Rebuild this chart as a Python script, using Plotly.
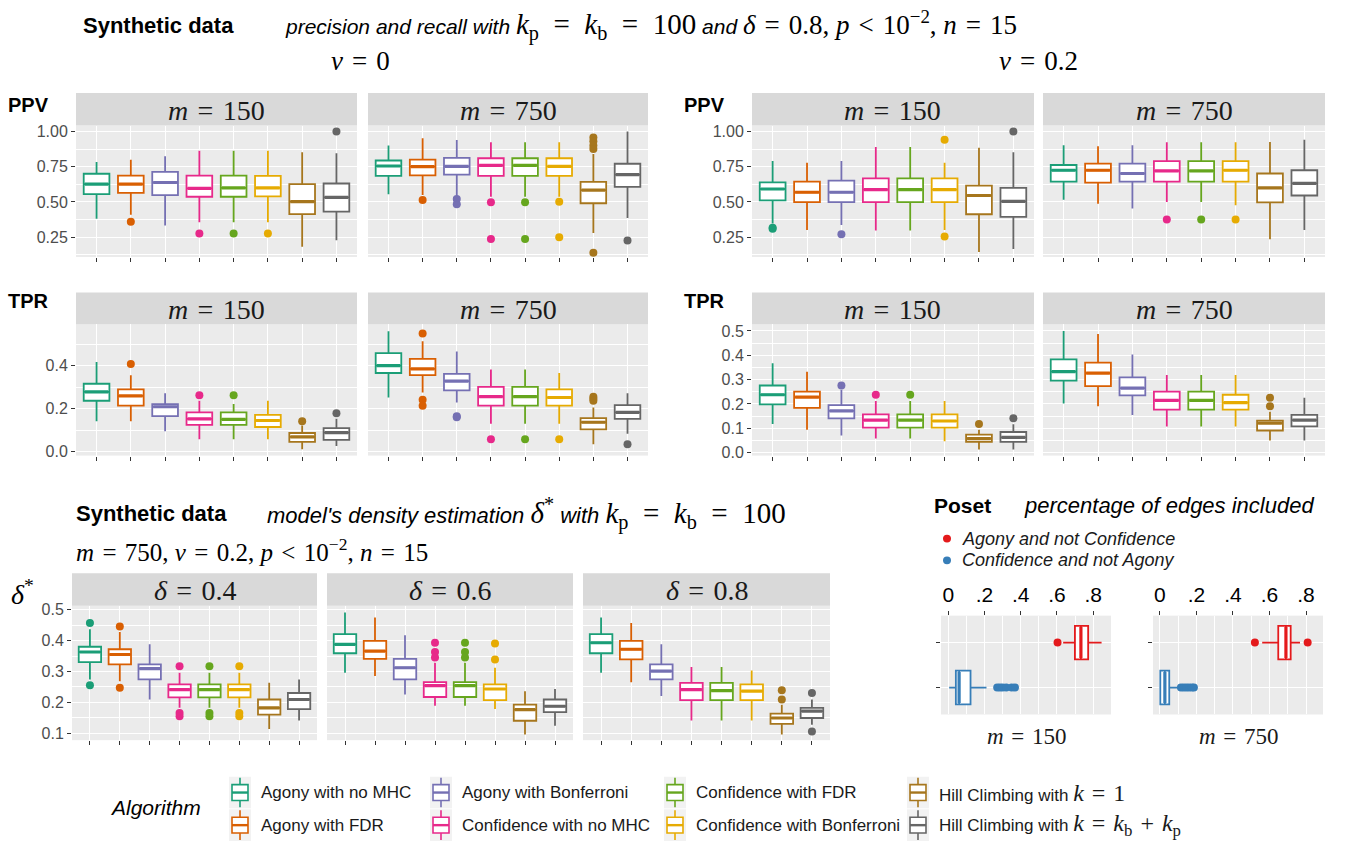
import plotly.graph_objects as go

W, H = 1347, 844

def fx(x):
    return x / W

def fy(y):
    return 1 - y / H

ALGORITHMS = ["Agony with no MHC", "Agony with FDR", "Agony with Bonferroni",
              "Confidence with no MHC", "Confidence with FDR", "Confidence with Bonferroni",
              "Hill Climbing with k = 1", "Hill Climbing with k = kb + kp"]
COLORS = ["#1B9E77", "#D95F02", "#7570B3", "#E7298A", "#66A61E", "#E6AB02", "#A6761D", "#666666"]

# rows: (lower whisker, q1, median, q3, upper whisker) per algorithm
PPV_NU0_M150 = [(0.381, 0.556, 0.626, 0.700, 0.783), (0.409, 0.565, 0.626, 0.687, 0.800),
                (0.334, 0.549, 0.638, 0.713, 0.825), (0.357, 0.537, 0.596, 0.687, 0.864),
                (0.357, 0.537, 0.600, 0.687, 0.864), (0.357, 0.539, 0.600, 0.685, 0.864),
                (0.182, 0.414, 0.502, 0.626, 0.853), (0.229, 0.432, 0.533, 0.631, 0.846)]
PPV_NU0_M150_OUT = [[], [0.36], [], [0.276], [0.276], [0.276], [], [1.0]]

PPV_NU0_M750 = [(0.554, 0.685, 0.755, 0.794, 0.900), (0.549, 0.689, 0.750, 0.800, 0.951),
                (0.537, 0.694, 0.752, 0.813, 0.940), (0.537, 0.685, 0.759, 0.810, 0.923),
                (0.537, 0.685, 0.759, 0.810, 0.923), (0.537, 0.685, 0.752, 0.810, 0.923),
                (0.280, 0.491, 0.584, 0.643, 0.840), (0.386, 0.607, 0.694, 0.771, 1.000)]
PPV_NU0_M750_OUT = [[], [0.514], [0.521, 0.484], [0.498, 0.238], [0.498, 0.238], [0.502, 0.25],
                    [0.958, 0.93, 0.90, 0.876, 0.14], [0.227]]

PPV_NU02_M150 = [(0.348, 0.511, 0.592, 0.639, 0.790), (0.301, 0.499, 0.569, 0.644, 0.779),
                 (0.336, 0.499, 0.569, 0.651, 0.790), (0.297, 0.499, 0.588, 0.667, 0.890),
                 (0.297, 0.499, 0.588, 0.667, 0.890), (0.301, 0.499, 0.588, 0.667, 0.779),
                 (0.145, 0.413, 0.546, 0.616, 0.884), (0.166, 0.394, 0.504, 0.600, 0.853)]
PPV_NU02_M150_OUT = [[0.318, 0.31], [], [0.271], [], [], [0.942, 0.255], [], [1.0]]

PPV_NU02_M750 = [(0.515, 0.644, 0.725, 0.762, 0.902), (0.488, 0.637, 0.725, 0.772, 0.895),
                 (0.453, 0.644, 0.702, 0.772, 0.902), (0.499, 0.644, 0.720, 0.790, 0.923),
                 (0.499, 0.644, 0.720, 0.790, 0.923), (0.476, 0.644, 0.725, 0.790, 0.923),
                 (0.236, 0.497, 0.600, 0.702, 0.925), (0.301, 0.546, 0.632, 0.725, 0.942)]
PPV_NU02_M750_OUT = [[], [], [], [0.376], [0.376], [0.376], [], []]

TPR_NU0_M150 = [(0.142, 0.237, 0.278, 0.316, 0.417), (0.142, 0.214, 0.260, 0.290, 0.356),
                (0.095, 0.165, 0.209, 0.221, 0.272), (0.058, 0.125, 0.153, 0.183, 0.237),
                (0.058, 0.125, 0.150, 0.183, 0.222), (0.058, 0.115, 0.145, 0.171, 0.237),
                (0.012, 0.046, 0.069, 0.087, 0.122), (0.026, 0.055, 0.089, 0.110, 0.153)]
TPR_NU0_M150_OUT = [[], [0.408], [], [0.263], [0.263], [], [0.142], [0.179]]

TPR_NU0_M750 = [(0.252, 0.366, 0.400, 0.458, 0.560), (0.275, 0.356, 0.385, 0.432, 0.514),
                (0.229, 0.285, 0.328, 0.362, 0.466), (0.130, 0.214, 0.256, 0.301, 0.382),
                (0.130, 0.214, 0.256, 0.301, 0.382), (0.130, 0.214, 0.252, 0.290, 0.366),
                (0.035, 0.104, 0.137, 0.156, 0.206), (0.084, 0.153, 0.183, 0.217, 0.272)]
TPR_NU0_M750_OUT = [[], [0.55, 0.241, 0.214], [0.165, 0.16], [0.058], [0.058], [0.058],
                    [0.256, 0.246, 0.237], [0.035]]

TPR_NU02_M150 = [(0.118, 0.198, 0.238, 0.276, 0.367), (0.094, 0.184, 0.228, 0.251, 0.332),
                 (0.071, 0.141, 0.172, 0.195, 0.259), (0.058, 0.103, 0.134, 0.157, 0.212),
                 (0.058, 0.103, 0.134, 0.157, 0.212), (0.047, 0.103, 0.130, 0.157, 0.212),
                 (0.013, 0.044, 0.058, 0.074, 0.094), (0.013, 0.044, 0.063, 0.085, 0.117)]
TPR_NU02_M150_OUT = [[], [], [0.276], [0.238], [0.238], [], [0.118], [0.141]]

TPR_NU02_M750 = [(0.202, 0.296, 0.333, 0.383, 0.500), (0.191, 0.273, 0.327, 0.370, 0.488),
                 (0.155, 0.235, 0.265, 0.309, 0.403), (0.108, 0.177, 0.215, 0.251, 0.319),
                 (0.108, 0.177, 0.215, 0.251, 0.319), (0.108, 0.177, 0.206, 0.238, 0.319),
                 (0.050, 0.091, 0.121, 0.132, 0.168), (0.050, 0.108, 0.134, 0.155, 0.226)]
TPR_NU02_M750_OUT = [[], [], [], [], [], [], [0.226, 0.191], []]

DENS_D04 = [(0.274, 0.330, 0.363, 0.380, 0.437), (0.268, 0.323, 0.355, 0.372, 0.428),
            (0.209, 0.274, 0.309, 0.323, 0.388), (0.182, 0.216, 0.241, 0.258, 0.296),
            (0.182, 0.216, 0.241, 0.258, 0.296), (0.182, 0.216, 0.241, 0.258, 0.296),
            (0.113, 0.160, 0.182, 0.209, 0.263), (0.141, 0.178, 0.209, 0.230, 0.274)]
DENS_D04_OUT = [[0.457, 0.255], [0.446, 0.247], [], [0.317, 0.165, 0.155], [0.317, 0.165, 0.155],
                [0.317, 0.165, 0.155], [], []]

DENS_D06 = [(0.296, 0.359, 0.388, 0.421, 0.491), (0.285, 0.341, 0.366, 0.399, 0.475),
            (0.225, 0.274, 0.312, 0.341, 0.417), (0.189, 0.217, 0.254, 0.265, 0.328),
            (0.189, 0.217, 0.254, 0.265, 0.328), (0.178, 0.207, 0.243, 0.258, 0.312),
            (0.095, 0.140, 0.176, 0.192, 0.236), (0.124, 0.168, 0.187, 0.209, 0.243)]
DENS_D06_OUT = [[], [], [], [0.393, 0.363, 0.345], [0.393, 0.363, 0.345], [0.391, 0.339], [], []]

DENS_D08 = [(0.296, 0.359, 0.393, 0.421, 0.475), (0.265, 0.339, 0.372, 0.399, 0.457),
            (0.220, 0.274, 0.301, 0.323, 0.388), (0.141, 0.207, 0.241, 0.263, 0.314),
            (0.141, 0.207, 0.238, 0.263, 0.314), (0.141, 0.207, 0.236, 0.258, 0.303),
            (0.095, 0.130, 0.149, 0.163, 0.192), (0.127, 0.149, 0.171, 0.182, 0.209)]
DENS_D08_OUT = [[], [], [], [], [], [], [0.239, 0.209], [0.23, 0.105]]

POSET_GROUPS = ["Agony and not Confidence", "Confidence and not Agony"]
POSET_COLORS = ["#E41A1C", "#377EB8"]
POSET_M150 = [(0.634, 0.699, 0.732, 0.772, 0.846), (0.005, 0.042, 0.060, 0.123, 0.211)]
POSET_M150_OUT = [[0.603], [0.27, 0.285, 0.30, 0.32, 0.35, 0.368]]
POSET_M750 = [(0.560, 0.648, 0.690, 0.716, 0.767), (0.000, 0.002, 0.027, 0.051, 0.110)]
POSET_M750_OUT = [[0.52, 0.809], [0.115, 0.13, 0.145, 0.16, 0.175, 0.186]]

SANS = "Liberation Sans, Arial, sans-serif"
SERIF = "Liberation Serif, Times New Roman, serif"
BG = "#EBEBEB"
STRIP = "#D9D9D9"
EQ = "\u2004=\u2004"
EQ2 = "\u2002=\u2002"
LT = "\u2004&lt;\u2004"
BOX_W = 0.75

PPV_TICKS = dict(range=[0.11, 1.042], tickvals=[0.25, 0.5, 0.75, 1.0],
                 ticktext=["0.25", "0.50", "0.75", "1.00"], minor=[0.125, 0.375, 0.625, 0.875])
TPRL_TICKS = dict(range=[-0.018, 0.593], tickvals=[0.0, 0.2, 0.4],
                  ticktext=["0.0", "0.2", "0.4"], minor=[0.1, 0.3, 0.5])
TPRR_TICKS = dict(range=[-0.012, 0.528], tickvals=[0.0, 0.1, 0.2, 0.3, 0.4, 0.5],
                  ticktext=["0.0", "0.1", "0.2", "0.3", "0.4", "0.5"],
                  minor=[0.05, 0.15, 0.25, 0.35, 0.45])
DENS_TICKS = dict(range=[0.077, 0.513], tickvals=[0.1, 0.2, 0.3, 0.4, 0.5],
                  ticktext=["0.1", "0.2", "0.3", "0.4", "0.5"], minor=[0.15, 0.25, 0.35, 0.45])

M150 = "<i>m</i>" + EQ + "150"
M750 = "<i>m</i>" + EQ + "750"

# panel: (stats, outliers, (x0, x1, ystrip_top, yplot_top, yplot_bottom), yticks, strip label, show y labels)
PANELS = [
    (PPV_NU0_M150, PPV_NU0_M150_OUT, (76, 357, 90, 123, 256), PPV_TICKS, M150, True),
    (PPV_NU0_M750, PPV_NU0_M750_OUT, (368, 648, 90, 123, 256), PPV_TICKS, M750, False),
    (PPV_NU02_M150, PPV_NU02_M150_OUT, (752, 1034, 90, 123, 256), PPV_TICKS, M150, True),
    (PPV_NU02_M750, PPV_NU02_M750_OUT, (1043, 1325, 90, 123, 256), PPV_TICKS, M750, False),
    (TPR_NU0_M150, TPR_NU0_M150_OUT, (76, 357, 292, 324, 457), TPRL_TICKS, M150, True),
    (TPR_NU0_M750, TPR_NU0_M750_OUT, (368, 648, 292, 324, 457), TPRL_TICKS, M750, False),
    (TPR_NU02_M150, TPR_NU02_M150_OUT, (752, 1034, 292, 324, 457), TPRR_TICKS, M150, True),
    (TPR_NU02_M750, TPR_NU02_M750_OUT, (1043, 1325, 292, 324, 457), TPRR_TICKS, M750, False),
    (DENS_D04, DENS_D04_OUT, (72, 317, 576, 609, 745), DENS_TICKS, "<i>δ</i>" + EQ + "0.4", True),
    (DENS_D06, DENS_D06_OUT, (327, 573, 576, 609, 745), DENS_TICKS, "<i>δ</i>" + EQ + "0.6", False),
    (DENS_D08, DENS_D08_OUT, (583, 830, 576, 609, 745), DENS_TICKS, "<i>δ</i>" + EQ + "0.8", False),
]

POSET_PANELS = [
    (POSET_M150, POSET_M150_OUT, (941, 1111, 619, 719), [-0.04, 0.898], M150),
    (POSET_M750, POSET_M750_OUT, (1153, 1323, 619, 719), [-0.038, 0.893], M750),
]

fig = go.Figure()
layout = dict(width=W, height=H, margin=dict(l=0, r=0, t=0, b=0),
              paper_bgcolor="white", plot_bgcolor=BG, showlegend=False)
shapes = []
annotations = []

def ann(x, y, text, size, family=SANS, color="#000000", xanchor="left", yanchor="middle"):
    annotations.append(dict(x=fx(x), y=fy(y), xref="paper", yref="paper", text=text,
                            showarrow=False, xanchor=xanchor, yanchor=yanchor, borderpad=0,
                            font=dict(size=size, family=family, color=color)))

n = 0
for stats, outs, (x0, x1, ys, yt, yb), ticks, label, showy in PANELS:
    n += 1
    xa = "xaxis" if n == 1 else f"xaxis{n}"
    ya = "yaxis" if n == 1 else f"yaxis{n}"
    xr = "x" if n == 1 else f"x{n}"
    yr = "y" if n == 1 else f"y{n}"
    layout[xa] = dict(domain=[fx(x0), fx(x1)], anchor=yr, range=[0.4, 8.6],
                      tickvals=list(range(1, 9)), showticklabels=False, ticks="outside",
                      ticklen=4, tickwidth=1.1, tickcolor="#333333", showgrid=True,
                      gridcolor="white", gridwidth=1.3, zeroline=False, showline=False,
                      fixedrange=True)
    layout[ya] = dict(domain=[fy(yb), fy(yt)], anchor=xr, range=ticks["range"],
                      tickvals=ticks["tickvals"], ticktext=ticks["ticktext"],
                      showticklabels=showy, ticks="outside" if showy else "",
                      ticklen=4, tickwidth=1.1, tickcolor="#333333",
                      tickfont=dict(size=16, family=SANS, color="#4D4D4D"),
                      showgrid=True, gridcolor="white", gridwidth=1.3, zeroline=False,
                      showline=False, fixedrange=True,
                      minor=dict(tickvals=ticks["minor"], showgrid=True, gridcolor="white",
                                 gridwidth=0.6, ticks=""))
    for i, (lo, q1, med, q3, hi) in enumerate(stats):
        fig.add_trace(go.Box(x=[i + 1], q1=[q1], median=[med], q3=[q3], lowerfence=[lo],
                             upperfence=[hi], width=BOX_W, whiskerwidth=0, boxpoints=False,
                             fillcolor="white", line=dict(color=COLORS[i], width=1.8),
                             xaxis=xr, yaxis=yr, hoverinfo="skip", name=ALGORITHMS[i]))
        fig.add_trace(go.Scatter(x=[i + 1 - BOX_W / 2 + 0.03, i + 1 + BOX_W / 2 - 0.03],
                                 y=[med, med], mode="lines",
                                 line=dict(color=COLORS[i], width=3.2), xaxis=xr, yaxis=yr,
                                 hoverinfo="skip"))
        if outs[i]:
            fig.add_trace(go.Scatter(x=[i + 1] * len(outs[i]), y=outs[i], mode="markers",
                                     marker=dict(color=COLORS[i], size=8), xaxis=xr, yaxis=yr,
                                     hoverinfo="skip"))
    shapes.append(dict(type="rect", xref="paper", yref="paper", x0=fx(x0), x1=fx(x1),
                       y0=fy(yt), y1=fy(ys), fillcolor=STRIP, line=dict(width=0), layer="below"))
    ann((x0 + x1) / 2, (ys + yt) / 2 + 1, label, 28, SERIF, "#1A1A1A", xanchor="center")

for stats, outs, (x0, x1, yt, yb), xrange, label in POSET_PANELS:
    n += 1
    xa, ya, xr, yr = f"xaxis{n}", f"yaxis{n}", f"x{n}", f"y{n}"
    layout[xa] = dict(domain=[fx(x0), fx(x1)], anchor=yr, side="top", range=xrange,
                      tickvals=[0, 0.2, 0.4, 0.6, 0.8], ticktext=["0", ".2", ".4", ".6", ".8"],
                      tickfont=dict(size=21, family=SANS, color="#000000"), ticks="outside",
                      ticklen=4, tickwidth=1.1, tickcolor="#333333", showgrid=True,
                      gridcolor="white", gridwidth=1.3, zeroline=False, fixedrange=True,
                      minor=dict(tickvals=[0.1, 0.3, 0.5, 0.7], showgrid=True, gridcolor="white",
                                 gridwidth=0.6, ticks=""))
    layout[ya] = dict(domain=[fy(yb), fy(yt)], anchor=xr, range=[0.4, 2.6], tickvals=[1, 2],
                      showticklabels=False, ticks="outside", ticklen=4, tickwidth=1.1,
                      tickcolor="#333333", showgrid=True, gridcolor="white", gridwidth=1.3,
                      zeroline=False, fixedrange=True)
    for j, (lo, q1, med, q3, hi) in enumerate(stats):
        pos = 2 - j
        fig.add_trace(go.Box(y=[pos], q1=[q1], median=[med], q3=[q3], lowerfence=[lo],
                             upperfence=[hi], orientation="h", width=BOX_W, whiskerwidth=0,
                             boxpoints=False, fillcolor="white",
                             line=dict(color=POSET_COLORS[j], width=1.8),
                             xaxis=xr, yaxis=yr, hoverinfo="skip", name=POSET_GROUPS[j]))
        fig.add_trace(go.Scatter(x=[med, med], y=[pos - BOX_W / 2 + 0.03, pos + BOX_W / 2 - 0.03],
                                 mode="lines", line=dict(color=POSET_COLORS[j], width=3.2),
                                 xaxis=xr, yaxis=yr, hoverinfo="skip"))
        if outs[j]:
            fig.add_trace(go.Scatter(x=outs[j], y=[pos] * len(outs[j]), mode="markers",
                                     marker=dict(color=POSET_COLORS[j], size=8),
                                     xaxis=xr, yaxis=yr, hoverinfo="skip"))
    ann((x0 + x1) / 2, 741, label, 23, SERIF, "#1A1A1A", xanchor="center")

SERIF_SPAN = "<span style='font-family:Liberation Serif;font-size:{}px'>"

# titles
ann(82, 22, "<b>Synthetic data</b>", 22)
ann(284, 22, "<i>precision and recall with </i>" + SERIF_SPAN.format(29) +
    "<i>k</i><sub>p</sub>" + EQ2 + "<i>k</i><sub>b</sub>" + EQ2 + "100</span><i> and </i>" +
    SERIF_SPAN.format(27) + "<i>δ</i>" + EQ + "0.8, <i>p</i>" + LT +
    "10<sup>−2</sup>, <i>n</i>" + EQ + "15</span>", 21)
ann(360, 58, "<i>ν</i>" + EQ + "0", 27, SERIF, xanchor="center")
ann(1038, 58, "<i>ν</i>" + EQ + "0.2", 27, SERIF, xanchor="center")
ann(7, 102, "<b>PPV</b>", 20)
ann(7, 301, "<b>TPR</b>", 20)
ann(683, 102, "<b>PPV</b>", 20)
ann(683, 301, "<b>TPR</b>", 20)

ann(75, 516, "<b>Synthetic data</b>", 22)
ann(266, 516, "<i>model's density estimation </i>" + SERIF_SPAN.format(29) +
    "<i>δ</i><sup>*</sup></span><i> with </i>" + SERIF_SPAN.format(29) +
    "<i>k</i><sub>p</sub>" + EQ2 + "<i>k</i><sub>b</sub>" + EQ2 + "100</span>", 22)
ann(75, 553, "<i>m</i>" + EQ + "750, <i>ν</i>" + EQ + "0.2, <i>p</i>" + LT +
    "10<sup>−2</sup>, <i>n</i>" + EQ + "15", 25, SERIF)
ann(10, 596, "<i>δ</i><sup>*</sup>", 28, SERIF)

ann(933, 508, "<b>Poset</b>", 21)
ann(1023, 508, "<i>percentage of edges included</i>", 22)
for j, g in enumerate(POSET_GROUPS):
    yy = 541 + 22 * j
    shapes.append(dict(type="circle", xref="paper", yref="paper",
                       x0=fx(947 - 4), x1=fx(947 + 4), y0=fy(yy + 4), y1=fy(yy - 4),
                       fillcolor=POSET_COLORS[j], line=dict(width=0)))
    ann(961, yy, f"<i>{g}</i>", 18, SANS, "#1A1A1A")

# algorithm legend
ann(109, 813, "<i>Algorithm</i>", 21)
LEG_X = [240, 441, 675, 918]
LEG_Y = [798, 831]
LEG_LABELS = ["Agony with no MHC", "Agony with FDR", "Agony with Bonferroni",
              "Confidence with no MHC", "Confidence with FDR", "Confidence with Bonferroni",
              "Hill Climbing with " + SERIF_SPAN.format(24) + "<i>k</i>" + EQ + "1</span>",
              "Hill Climbing with " + SERIF_SPAN.format(24) + "<i>k</i>" + EQ +
              "<i>k</i><sub>b</sub>\u2004+\u2004<i>k</i><sub>p</sub></span>"]
for i in range(8):
    cx = LEG_X[i // 2]
    cy = LEG_Y[i % 2]
    c = COLORS[i]
    shapes.append(dict(type="rect", xref="paper", yref="paper", x0=fx(cx - 11), x1=fx(cx + 11),
                       y0=fy(cy + 16), y1=fy(cy - 16), fillcolor="#F2F2F2", line=dict(width=0)))
    shapes.append(dict(type="line", xref="paper", yref="paper", x0=fx(cx), x1=fx(cx),
                       y0=fy(cy + 15), y1=fy(cy - 15), line=dict(color=c, width=1.6)))
    shapes.append(dict(type="rect", xref="paper", yref="paper", x0=fx(cx - 8), x1=fx(cx + 8),
                       y0=fy(cy + 8), y1=fy(cy - 8), fillcolor="white",
                       line=dict(color=c, width=1.6)))
    shapes.append(dict(type="line", xref="paper", yref="paper", x0=fx(cx - 8), x1=fx(cx + 8),
                       y0=fy(cy), y1=fy(cy), line=dict(color=c, width=2.4)))
    ann(cx + 20, cy, LEG_LABELS[i], 17, SANS, "#1A1A1A")

layout["shapes"] = shapes
layout["annotations"] = annotations
fig.update_layout(**layout)
fig.write_html("out.html", config={"displayModeBar": False},
               post_script="document.body.style.margin='0px';")
